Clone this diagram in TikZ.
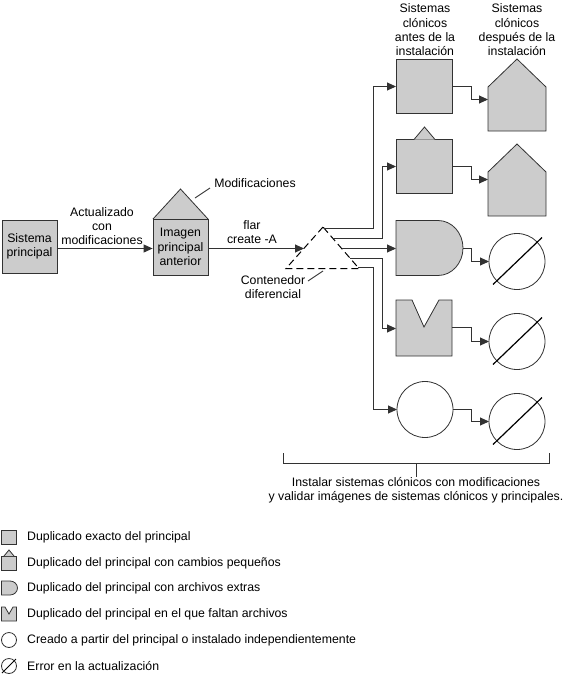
\documentclass[tikz,border=0pt]{standalone}
\usepackage{fontspec}
\setmainfont{Liberation Sans}
\usetikzlibrary{arrows.meta}
\definecolor{fillg}{RGB}{204,204,204}
\definecolor{lineg}{RGB}{50,50,50}
\begin{document}
\begin{tikzpicture}[x=1pt,y=-1pt,
  lbl/.style={font=\fontsize{12.3}{14.4}\selectfont, align=center, inner sep=0pt},
  shp/.style={draw=lineg, fill=fillg, line width=0.8pt},
  wshp/.style={draw=lineg, fill=white, line width=0.8pt},
  anc/.style={inner sep=0pt, outer sep=0pt},
  conn/.style={draw=lineg, line width=0.9pt},
  arr/.style={conn, -{Triangle[length=9pt,width=8pt]}},
  slash/.style={draw=black, line width=1.2pt},
  dashtri/.style={draw=black, line width=1pt, dash pattern=on 7pt off 4pt},
  leg/.style={font=\fontsize{12.3}{14.4}\selectfont, anchor=west, inner sep=0pt}
]
\useasboundingbox (0,0) rectangle (564,675);

% ---- main flow ----
\node[shp, lbl, minimum width=55pt, minimum height=53pt] (sp) at (29.5,246.5) {Sistema\\principal};
\fill[fillg] (153,219) -- (180.5,189) -- (208,219) -- cycle;
\draw[lineg, line width=0.8pt] (153,219) -- (180.5,189) -- (208,219);
\node[shp, lbl, minimum width=55pt, minimum height=56pt] (im) at (180.5,247) {Imagen\\principal\\anterior};
\node[lbl] (lact) at (102,226) {Actualizado\\con\\modificaciones};
\node[lbl] (lmod) at (255,183) {Modificaciones};
\coordinate (mA) at (195,198);
\coordinate (mB) at (210,188);
\draw[conn] (mA) -- (mB);
\draw[arr] (sp.east |- 0,248.5) -- (im.west |- 0,248.5);

\node[lbl] (lflar) at (252,232) {flar\\create -A};
% dashed triangle (differential archive)
\coordinate (ta) at (323,227);
\coordinate (tl) at (286,268.5);
\coordinate (tr) at (359,268.5);
\draw[dashtri] (ta) -- (tl) -- (tr) -- cycle;
\coordinate (tin) at (304,248.5);
\draw[arr] (im.east |- 0,248.5) -- (tin);
\node[lbl] (lcont) at (273,287) {Contenedor\\diferencial};
\coordinate (cA) at (308,281);
\coordinate (cB) at (323,271);
\draw[conn] (cA) -- (cB);

% triangle outlets
\coordinate (t1) at (324,228.5);
\coordinate (t2) at (333,238.5);
\coordinate (t3) at (341.5,248.5);
\coordinate (t4) at (350,258.5);
\coordinate (t5) at (358,267.5);

% ---- clones before ----
\node[lbl] (lbefore) at (425,30) {Sistemas\\clónicos\\antes de la\\instalación};
\node[lbl] (lafter) at (517,30) {Sistemas\\clónicos\\después de la\\instalación};

\node[shp, minimum width=56pt, minimum height=54pt, anc] (b1) at (424,86.5) {};
\node[shp, minimum width=56pt, minimum height=54pt, anc] (b2) at (424,166.5) {};
\fill[fillg] (414,139.5) -- (424.5,127) -- (435,139.5) -- cycle;
\draw[lineg, line width=0.8pt] (414,139.5) -- (424.5,127) -- (435,139.5);
% D shape
\node[anc, minimum width=67pt, minimum height=55pt] (b3) at (429.5,248.5) {};
\draw[shp] (396,220.5) -- (438,220.5) arc[start angle=-90, end angle=90, x radius=25, y radius=27.5] -- (396,275.5) -- cycle;
% notched box
\node[anc, minimum width=56pt, minimum height=56pt] (b4) at (424,328) {};
\draw[shp] (396,300) -- (412,300) -- (424,327) -- (439,300) -- (452,300) -- (452,356) -- (396,356) -- cycle;
% circle
\node[wshp, circle, minimum size=56pt, anc] (b5) at (425,409.5) {};

\draw[arr] (t1) -- (373.5,228.5) -- (373.5,86.5) -- (b1.west);
\draw[arr] (t2) -- (382.5,238.5) -- (382.5,166.5) -- (b2.west);
\draw[arr] (t3) -- (b3.west);
\draw[arr] (t4) -- (382.5,258.5) -- (382.5,328.5) -- (b4.west |- 0,328.5);
\draw[arr] (t5) -- (373.5,267.5) -- (373.5,409.5) -- (b5.west);

% ---- clones after ----
\node[anc, minimum width=58pt, minimum height=44pt] (h1) at (517,109) {};
\draw[shp] (488,131) -- (488,87) -- (517,59) -- (546,87) -- (546,131) -- cycle;
\node[anc, minimum width=58pt, minimum height=44pt] (h2) at (517,194) {};
\draw[shp] (488,216) -- (488,172) -- (517,144) -- (546,172) -- (546,216) -- cycle;
\node[wshp, circle, minimum size=56pt, anc] (c3) at (517,261.5) {};
\node[wshp, circle, minimum size=56pt, anc] (c4) at (517,341.5) {};
\node[wshp, circle, minimum size=56pt, anc] (c5) at (517,421.5) {};
\draw[slash] (c3.center) ++(-24,23) -- ++(49,-47);
\draw[slash] (c4.center) ++(-24,23) -- ++(49,-47);
\draw[slash] (c5.center) ++(-24,23) -- ++(49,-47);

\draw[arr] (b1.east) -- (471.5,86.5) -- (471.5,99.5) -- (h1.west |- 0,99.5);
\draw[arr] (b2.east) -- (471.5,166.5) -- (471.5,179.5) -- (h2.west |- 0,179.5);
\draw[arr] (b3.east) -- (471.5,248.5) -- (471.5,261.5) -- (c3.west);
\draw[arr] (b4.east |- 0,327.5) -- (471.5,327.5) -- (471.5,341.5) -- (c4.west);
\draw[arr] (b5.east) -- (471.5,409.5) -- (471.5,421.5) -- (c5.west);

% ---- bracket ----
\coordinate (brL) at (283.5,453);
\coordinate (brR) at (549.5,453);
\coordinate (brM) at (416.5,463.5);
\draw[conn, line width=0.8pt] (brL) -- (283.5,463.5) -- (549.5,463.5) -- (brR);
\node[lbl] (linst) at (416,490) {Instalar sistemas clónicos con modificaciones\\y validar imágenes de sistemas clónicos y principales.};
\draw[conn, line width=0.8pt] (brM) -- (416.5,477);

% ---- legend ----
\draw[shp] (1.5,530) rectangle (16.5,544);
\node[leg] (g1) at (27,537) {Duplicado exacto del principal};
\draw[shp] (1.5,556) rectangle (16.5,570);
\fill[fillg] (4,556) -- (9,550) -- (14,556) -- cycle;
\draw[lineg, line width=0.8pt] (4,556) -- (9,550) -- (14,556);
\node[leg] (g2) at (27,563) {Duplicado del principal con cambios pequeños};
\draw[shp] (1.5,581) -- (10,581) arc[start angle=-90, end angle=90, x radius=7.5, y radius=7] -- (1.5,595) -- cycle;
\node[leg] (g3) at (27,588) {Duplicado del principal con archivos extras};
\draw[shp] (1.5,607) -- (5,607) -- (9,614) -- (13,607) -- (16.5,607) -- (16.5,621) -- (1.5,621) -- cycle;
\node[leg] (g4) at (27,614) {Duplicado del principal en el que faltan archivos};
\node[wshp, circle, minimum size=15pt, anc] (g5i) at (9,640) {};
\node[leg] (g5) at (27,640) {Creado a partir del principal o instalado independientemente};
\node[wshp, circle, minimum size=15pt, anc] (g6i) at (9,666) {};
\draw[slash, line width=0.8pt] (g6i.center) ++(-7,7) -- ++(14,-14);
\node[leg] (g6) at (27,666) {Error en la actualización};
\end{tikzpicture}
\end{document}
